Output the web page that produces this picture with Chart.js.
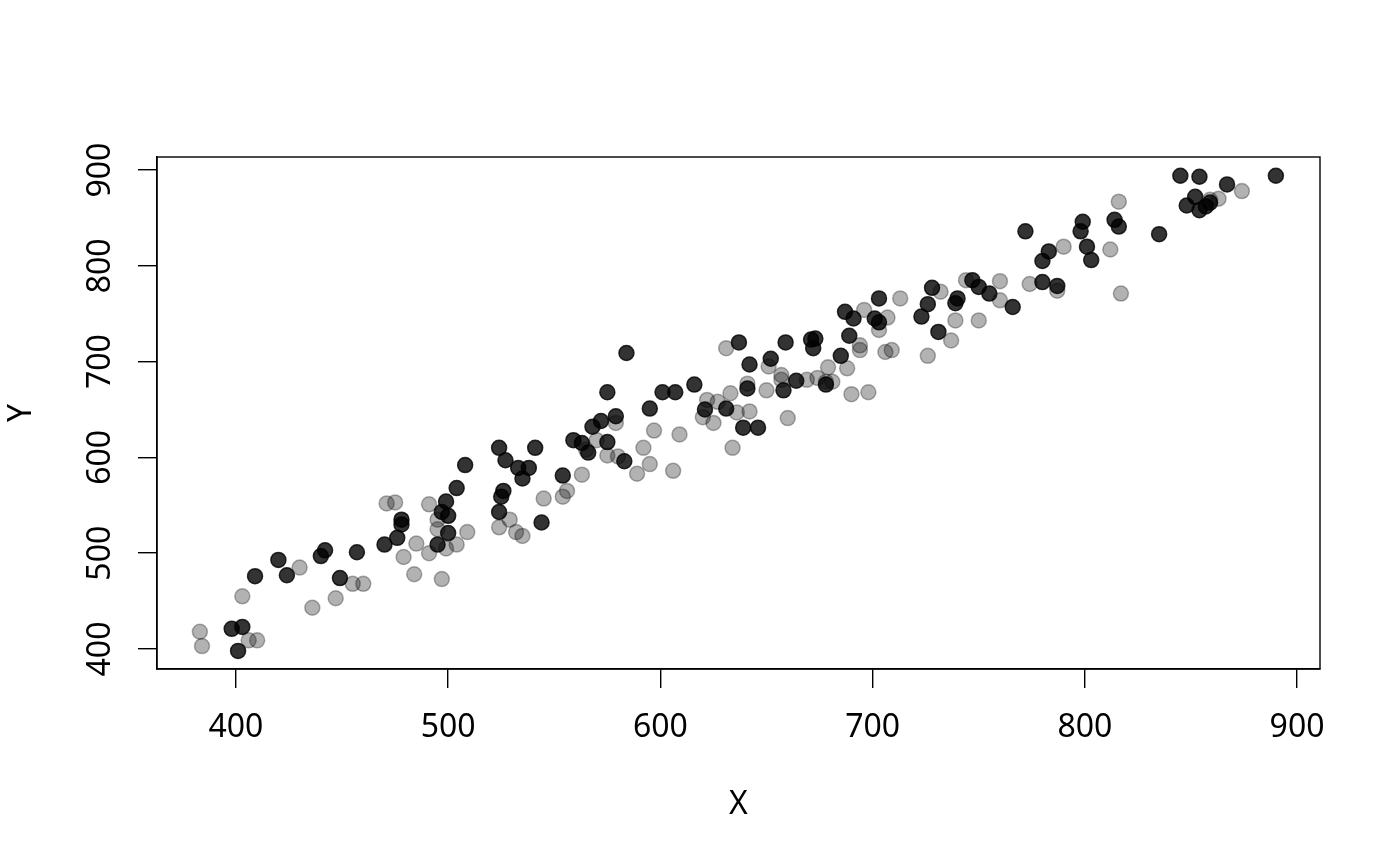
<!DOCTYPE html>
<html>
<head>
<meta charset="utf-8">
<script src="https://cdn.jsdelivr.net/npm/chart.js@4/dist/chart.umd.min.js"></script>
<style>
  html, body { margin: 0; padding: 0; background: #fff; }
  canvas { display: block; }
</style>
</head>
<body>
<canvas id="plot" width="1400" height="866"></canvas>
<script>
// ticks
const xTicks = [400, 500, 600, 700, 800, 900];
const yTicks = [400, 500, 600, 700, 800, 900];

// dark points (drawn on top)
const darkX = [420, 409, 424, 440, 442, 457, 470, 476, 478, 478, 449, 398, 403, 401,
  524, 527, 541, 533, 538, 535, 554, 559, 563, 566, 508, 504, 499, 497, 500, 500, 495, 526, 525, 524, 544,
  584, 575, 595, 601, 607, 616, 631, 639, 646, 642, 652, 637, 659, 641, 658, 664, 621, 579, 572, 568, 575, 583,
  671, 672, 673, 689, 685, 687, 691, 703, 701, 703, 728, 726, 723, 740, 739, 731, 747, 750, 755, 678,
  772, 783, 780, 799, 798, 801, 803, 814, 816, 835, 848, 780, 787, 766,
  845, 854, 890, 867, 852, 854, 857, 859];
const darkY = [493, 476, 477, 497, 503, 501, 509, 516, 530, 535, 474, 421, 423, 398,
  610, 597, 610, 589, 589, 578, 581, 618, 615, 605, 592, 568, 554, 543, 539, 521, 509, 565, 559, 543, 532,
  709, 668, 651, 668, 668, 676, 651, 631, 631, 697, 703, 720, 720, 672, 670, 680, 650, 643, 638, 632, 616, 596,
  723, 714, 724, 727, 706, 752, 745, 766, 745, 741, 777, 760, 747, 766, 761, 731, 785, 778, 771, 676,
  836, 815, 805, 846, 836, 820, 806, 848, 841, 833, 863, 783, 779, 757,
  894, 893, 894, 885, 872, 858, 862, 866];

// light points
const lightX = [383, 384, 403, 406, 410, 430, 436, 447, 455, 460, 479, 484, 485, 491, 495, 495, 509, 491, 499, 504, 497, 471, 475,
  524, 529, 532, 535, 545, 554, 556, 565, 575, 580,
  631, 651, 657, 657, 641, 633, 650, 622, 627, 620, 625, 636, 642, 660, 634, 579, 570, 597, 609, 592, 595, 589, 606, 563,
  696, 707, 703, 713, 732, 739, 750, 737, 726, 694, 694, 706, 709, 679, 688, 669, 674, 678, 681, 690, 698, 744, 760,
  790, 812, 816, 774, 760, 787, 817,
  863, 874, 859];
const lightY = [418, 403, 455, 409, 409, 485, 443, 453, 468, 468, 496, 478, 510, 551, 535, 525, 522, 500, 505, 509, 473, 552, 553,
  527, 535, 522, 518, 557, 559, 565, 608, 602, 601,
  714, 695, 686, 681, 677, 667, 670, 660, 658, 642, 636, 647, 648, 641, 610, 636, 618, 628, 624, 610, 593, 583, 586, 582,
  754, 746, 733, 766, 773, 743, 743, 722, 706, 717, 712, 710, 712, 694, 693, 681, 683, 679, 679, 666, 668, 785, 764,
  820, 817, 867, 781, 784, 774, 771,
  870, 878, 869];

const toPoints = (xs, ys) => xs.map((x, i) => ({ x: x, y: ys[i] }));

const FONT = '"Noto Sans", "Open Sans", sans-serif';

// box round the plot area, like R's box()
const boxPlugin = {
    id: 'box',
    afterDraw(chart) {
        const a = chart.chartArea;
        const ctx = chart.ctx;
        ctx.save();
        ctx.strokeStyle = '#000';
        ctx.lineWidth = 1.4;
        ctx.strokeRect(a.left, a.top, a.right - a.left, a.bottom - a.top);
        ctx.restore();
    }
};

new Chart(document.getElementById('plot'), {
    type: 'scatter',
    data: {
        datasets: [
            {
                label: 'dark',
                data: toPoints(darkX, darkY),
                backgroundColor: 'rgba(0,0,0,0.8)',
                borderColor: 'rgba(0,0,0,0.8)',
                borderWidth: 1.5,
                pointRadius: 7.5,
                order: 0
            },
            {
                label: 'light',
                data: toPoints(lightX, lightY),
                backgroundColor: 'rgba(0,0,0,0.3)',
                borderColor: 'rgba(0,0,0,0.3)',
                borderWidth: 1.5,
                pointRadius: 7.5,
                order: 1
            }
        ]
    },
    options: {
        responsive: false,
        animation: false,
        devicePixelRatio: 1,
        layout: { padding: { left: 0, top: 157, right: 80, bottom: 0 } },
        plugins: {
            legend: { display: false },
            tooltip: { enabled: false }
        },
        scales: {
            x: {
                type: 'linear',
                min: 362.8,
                max: 910.8,
                afterBuildTicks: (s) => { s.ticks = xTicks.map(v => ({ value: v })); },
                afterFit: (s) => { s.height = 197; },
                grid: { drawOnChartArea: false, drawTicks: true, tickLength: 19, color: '#000', lineWidth: 1.4 },
                border: { display: true, color: '#000', width: 1.4 },
                ticks: { color: '#000', font: { family: FONT, size: 32 }, padding: 21, maxRotation: 0, autoSkip: false },
                title: { display: true, text: 'X', color: '#000', font: { family: FONT, size: 32 }, padding: { top: 42, bottom: 42 } }
            },
            y: {
                type: 'linear',
                min: 379.1,
                max: 913.6,
                afterBuildTicks: (s) => { s.ticks = yTicks.map(v => ({ value: v })); },
                afterFit: (s) => { s.width = 157; },
                grid: { drawOnChartArea: false, drawTicks: true, tickLength: 19, color: '#000', lineWidth: 1.4 },
                border: { display: true, color: '#000', width: 1.4 },
                ticks: { color: '#000', font: { family: FONT, size: 32 }, padding: 10, minRotation: 90, maxRotation: 90, crossAlign: 'center', autoSkip: false },
                title: { display: true, text: 'Y', color: '#000', font: { family: FONT, size: 32 }, padding: { top: 3, bottom: 3 } }
            }
        }
    },
    plugins: [boxPlugin]
});
</script>
</body>
</html>
